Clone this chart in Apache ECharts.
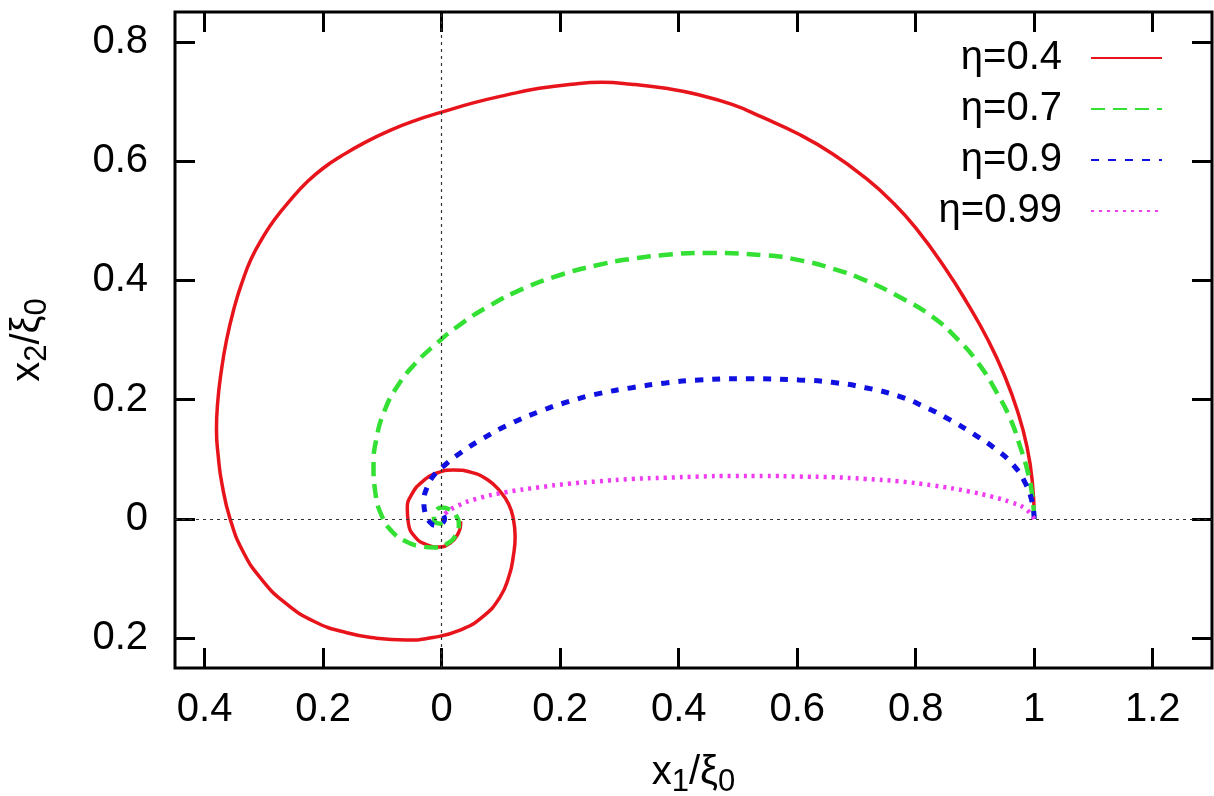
<!DOCTYPE html>
<html>
<head>
<meta charset="utf-8">
<script src="https://cdn.jsdelivr.net/npm/echarts@6/dist/echarts.min.js"></script>
<style>
  html, body { margin: 0; padding: 0; background: #fff; }
  #chart { width: 1214px; height: 796px; }
</style>
</head>
<body>
<div id="chart"></div>
<script>
// values, [x1/xi0, x2/xi0]
const legendNames = ['η=0.4', 'η=0.7', 'η=0.9', 'η=0.99'];
const xTicks = [-0.4, -0.2, 0, 0.2, 0.4, 0.6, 0.8, 1, 1.2];
const yTicks = [-0.2, 0, 0.2, 0.4, 0.6, 0.8];

const eta04 = [
  [1.0, 0.0], [0.997, 0.06], [0.988, 0.12], [0.972, 0.18], [0.950, 0.24], [0.922, 0.30],
  [0.888, 0.36], [0.850, 0.42], [0.800, 0.488], [0.760, 0.532], [0.715, 0.572],
  [0.660, 0.612], [0.603, 0.645], [0.540, 0.674], [0.490, 0.695], [0.430, 0.712],
  [0.378, 0.722], [0.320, 0.729], [0.270, 0.732], [0.220, 0.729], [0.165, 0.722],
  [0.110, 0.711], [0.055, 0.698], [0.0, 0.682], [-0.045, 0.668], [-0.086, 0.652],
  [-0.130, 0.631], [-0.170, 0.608], [-0.200, 0.588], [-0.226, 0.566], [-0.255, 0.535],
  [-0.282, 0.502], [-0.303, 0.470], [-0.321, 0.437], [-0.336, 0.399], [-0.349, 0.358],
  [-0.363, 0.300], [-0.373, 0.240], [-0.378, 0.195], [-0.380, 0.150], [-0.377, 0.105],
  [-0.371, 0.060], [-0.357, 0.0], [-0.335, -0.055], [-0.305, -0.100], [-0.265, -0.140],
  [-0.215, -0.172], [-0.160, -0.191], [-0.110, -0.200], [-0.060, -0.203], [-0.015, -0.199],
  [0.030, -0.187], [0.068, -0.165], [0.098, -0.132], [0.114, -0.095], [0.121, -0.062],
  [0.124, -0.030], [0.121, 0.000], [0.113, 0.025], [0.098, 0.047], [0.077, 0.066],
  [0.050, 0.078], [0.020, 0.082], [-0.008, 0.077], [-0.032, 0.063], [-0.050, 0.042],
  [-0.058, 0.018], [-0.056, -0.008], [-0.045, -0.030], [-0.026, -0.043], [-0.004, -0.047],
  [0.015, -0.040], [0.027, -0.026], [0.032, -0.010], [0.032, -0.004]
];

const eta07 = [
  [1.0, 0.0], [0.996, 0.044], [0.988, 0.083], [0.976, 0.122], [0.960, 0.167], [0.935, 0.215],
  [0.905, 0.262], [0.870, 0.302], [0.827, 0.340], [0.773, 0.372], [0.715, 0.400],
  [0.659, 0.420], [0.603, 0.434], [0.546, 0.442], [0.445, 0.446], [0.380, 0.443],
  [0.320, 0.436], [0.260, 0.425], [0.200, 0.409], [0.140, 0.387], [0.080, 0.357],
  [0.030, 0.325], [-0.010, 0.293], [-0.045, 0.260], [-0.075, 0.222], [-0.097, 0.180],
  [-0.110, 0.135], [-0.115, 0.090], [-0.112, 0.045], [-0.101, 0.005], [-0.083, -0.022],
  [-0.060, -0.038], [-0.035, -0.046], [-0.010, -0.048], [0.010, -0.041], [0.024, -0.027],
  [0.029, -0.010], [0.024, 0.006], [0.013, 0.016], [0.0, 0.019], [-0.010, 0.013],
  [-0.013, 0.002], [-0.008, -0.007], [0.002, -0.008]
];

const eta09 = [
  [1.0, 0.0], [0.996, 0.03], [0.985, 0.06], [0.965, 0.09], [0.935, 0.117], [0.898, 0.142],
  [0.858, 0.166], [0.815, 0.188], [0.771, 0.206], [0.715, 0.220], [0.659, 0.229],
  [0.603, 0.233], [0.518, 0.235], [0.434, 0.233], [0.378, 0.228], [0.321, 0.220],
  [0.265, 0.210], [0.215, 0.197], [0.165, 0.180], [0.115, 0.159], [0.070, 0.135],
  [0.032, 0.111], [0.005, 0.090], [-0.014, 0.072], [-0.025, 0.052], [-0.030, 0.030],
  [-0.028, 0.010], [-0.021, -0.004], [-0.010, -0.011], [0.0, -0.008], [0.005, 0.0],
  [0.003, 0.006]
];

const eta099 = [
  [1.0, 0.0], [0.985, 0.017], [0.96, 0.028], [0.93, 0.037], [0.89, 0.046], [0.83, 0.056],
  [0.771, 0.063], [0.715, 0.067], [0.659, 0.070], [0.603, 0.071], [0.546, 0.072],
  [0.490, 0.072], [0.434, 0.071], [0.378, 0.069], [0.321, 0.067], [0.265, 0.063],
  [0.215, 0.059], [0.165, 0.053], [0.110, 0.045], [0.060, 0.034], [0.025, 0.021],
  [0.007, 0.010], [0.0, 0.002]
];

const FONT = '"Liberation Sans", Arial, Helvetica, sans-serif';
const chart = echarts.init(document.getElementById('chart'));

function tickLabel(v) {
  return String(Math.abs(Math.round(v * 10) / 10));
}

function xAxisOpt(pos, labels) {
  return {
    type: 'value', position: pos, min: -0.45, max: 1.3,
    axisLine: { show: false, onZero: false },
    splitLine: { show: false },
    axisTick: { inside: true, length: 20, customValues: xTicks, lineStyle: { color: '#000', width: 3 } },
    axisLabel: {
      show: labels, customValues: xTicks, margin: 22, formatter: tickLabel,
      color: '#000', fontSize: 40, fontFamily: FONT
    }
  };
}

function yAxisOpt(pos, labels) {
  return {
    type: 'value', position: pos, min: -0.25, max: 0.85,
    axisLine: { show: false, onZero: false },
    splitLine: { show: false },
    axisTick: { inside: true, length: 20, customValues: yTicks, lineStyle: { color: '#000', width: 3 } },
    axisLabel: {
      show: labels, customValues: yTicks, margin: 27, formatter: tickLabel,
      color: '#000', fontSize: 40, fontFamily: FONT
    }
  };
}

const nameRich = {
  n: { fontSize: 40, fontFamily: FONT, color: '#000' },
  s: { fontSize: 31, fontFamily: FONT, color: '#000', padding: [20, 0, 0, 0] }
};

const xBottom = xAxisOpt('bottom', true);
xBottom.name = '{n|x}{s|1}{n|/ξ}{s|0}';
xBottom.nameLocation = 'middle';
xBottom.nameGap = 79;
xBottom.nameTextStyle = { rich: nameRich };

const yLeft = yAxisOpt('left', true);
yLeft.name = '{n|x}{s|2}{n|/ξ}{s|0}';
yLeft.nameLocation = 'middle';
yLeft.nameGap = 122;
yLeft.nameRotate = 90;
yLeft.nameTextStyle = { rich: nameRich };

function curve(name, data, color, width, dash) {
  return {
    name: name, type: 'line', data: data, smooth: 0.5,
    symbol: 'none', showSymbol: false, z: 3,
    lineStyle: { color: color, width: width, type: dash, cap: 'butt' },
    itemStyle: { color: color, borderWidth: 0 }
  };
}

chart.setOption({
  animation: false,
  backgroundColor: '#fff',
  grid: {
    left: 175, right: 2, top: 12, bottom: 128, outerBoundsMode: 'none',
    show: true, borderColor: '#000', borderWidth: 3, backgroundColor: 'transparent'
  },
  xAxis: [xBottom, xAxisOpt('top', false)],
  yAxis: [yLeft, yAxisOpt('right', false)],
  legend: {
    orient: 'vertical', right: 51, top: 38, padding: 0,
    align: 'right', itemWidth: 71, itemHeight: 2, itemGap: 11,
    data: legendNames,
    itemStyle: { color: 'rgba(0,0,0,0)', borderColor: 'rgba(0,0,0,0)', borderWidth: 0 },
    textStyle: { color: '#000', fontSize: 40, fontFamily: FONT, padding: [0, 24, 0, 0] }
  },
  series: [
    {
      type: 'line', data: [], z: 1, silent: true,
      markLine: {
        silent: true, symbol: 'none', label: { show: false },
        lineStyle: { color: '#333', width: 1.2, type: [3, 4] },
        data: [{ xAxis: 0 }, { yAxis: 0 }]
      }
    },
    curve(legendNames[0], eta04, '#e8141c', 3.5, 'solid'),
    curve(legendNames[1], eta07, '#33e033', 4.5, [14, 8]),
    curve(legendNames[2], eta09, '#1010e0', 5, [8, 9]),
    curve(legendNames[3], eta099, '#f03cf0', 4.5, [3, 5])
  ]
});
</script>
</body>
</html>
